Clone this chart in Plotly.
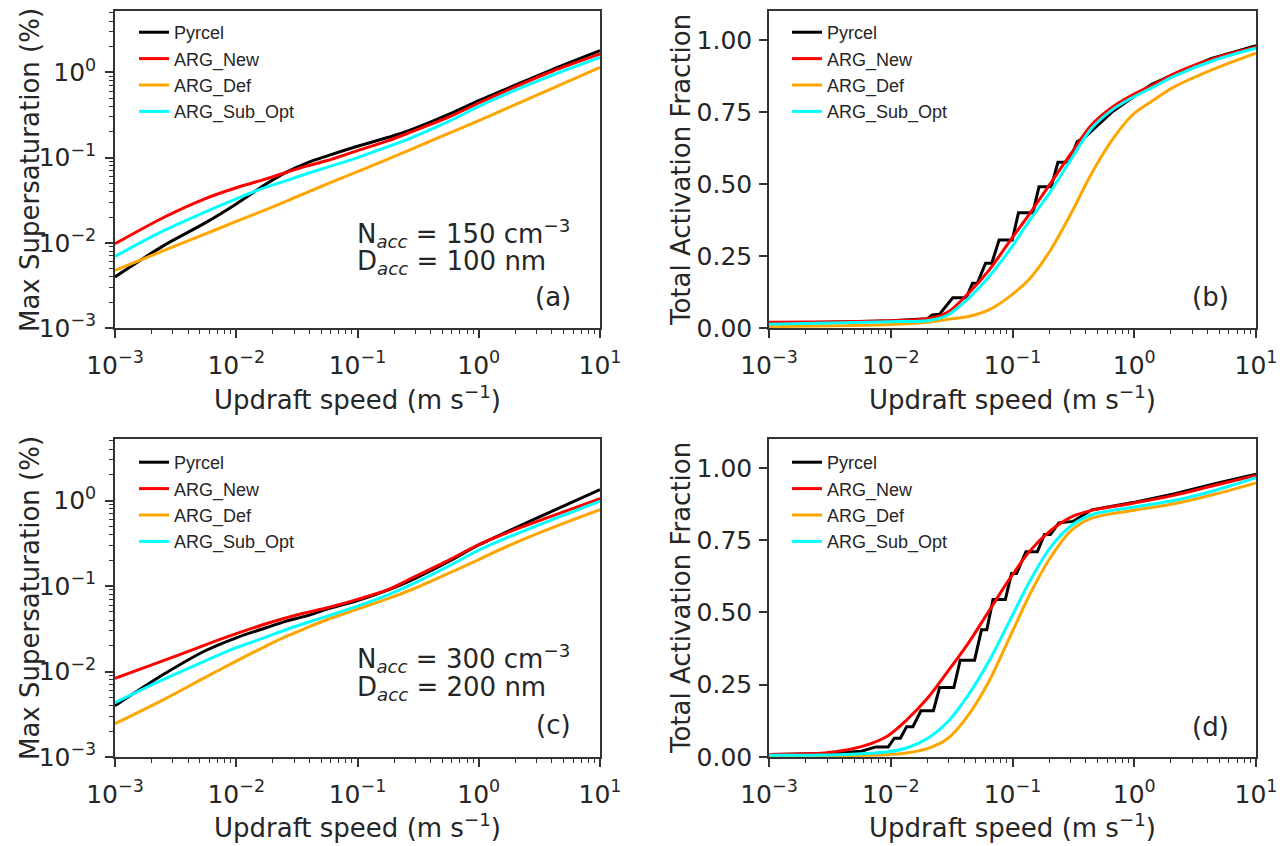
import plotly.graph_objects as go

# ---------------- data ----------------
SERIES = ["Pyrcel", "ARG_New", "ARG_Def", "ARG_Sub_Opt"]
COLORS = ["#000000", "#ff0000", "#ffa500", "#00ffff"]

# updraft speeds (m/s) for max supersaturation panels
W_SS = [0.001, 0.00254, 0.0055, 0.01, 0.0176, 0.026, 0.038, 0.0564, 0.1, 0.18,
        0.265, 0.577, 1.0, 1.85, 4.0, 10.0]

# panel (a): Nacc=150, Dacc=100 nm  (max supersaturation, %)
SS_A_PYRCEL = [0.00398, 0.00933, 0.0170, 0.0286, 0.0490, 0.0676, 0.0861, 0.1047,
               0.1358, 0.173, 0.207, 0.325, 0.466, 0.676, 1.072, 1.795]
SS_A_NEW = [0.00973, 0.01995, 0.0328, 0.0442, 0.0562, 0.0673, 0.0794, 0.0923,
            0.1208, 0.158, 0.195, 0.302, 0.437, 0.646, 1.023, 1.641]
SS_A_DEF = [0.00474, 0.00813, 0.0126, 0.0178, 0.0245, 0.0309, 0.0389, 0.0490,
            0.0684, 0.0966, 0.1216, 0.195, 0.272, 0.398, 0.646, 1.146]
SS_A_SUB = [0.00692, 0.01396, 0.0229, 0.0328, 0.0449, 0.0537, 0.0646, 0.0771,
            0.1000, 0.135, 0.166, 0.269, 0.398, 0.589, 0.923, 1.50]

# panel (c): Nacc=300, Dacc=200 nm
SS_C_PYRCEL = [0.00398, 0.00933, 0.01738, 0.0248, 0.0325, 0.0389, 0.0447, 0.0537,
               0.0676, 0.0902, 0.1135, 0.197, 0.302, 0.454, 0.748, 1.346]
SS_C_NEW = [0.00832, 0.01349, 0.0204, 0.0277, 0.0362, 0.0426, 0.0490, 0.0557,
            0.0697, 0.0912, 0.119, 0.204, 0.306, 0.439, 0.656, 1.054]
SS_C_DEF = [0.00245, 0.00472, 0.00847, 0.01324, 0.01986, 0.0259, 0.0324, 0.0406,
            0.0537, 0.0716, 0.0881, 0.143, 0.204, 0.306, 0.480, 0.785]
SS_C_SUB = [0.00432, 0.00813, 0.01324, 0.0190, 0.0253, 0.0310, 0.0372, 0.0445,
            0.0582, 0.0794, 0.101, 0.174, 0.263, 0.385, 0.596, 0.982]

# panel (b): activation fraction
W_AF_B = [0.001, 0.01, 0.02, 0.0294, 0.0434, 0.064, 0.0944, 0.139, 0.205, 0.303,
          0.447, 0.659, 0.97, 1.43, 2.11, 4.59, 10.0]
AF_B_NEW = [0.020, 0.025, 0.032, 0.055, 0.12, 0.20, 0.30, 0.398, 0.502, 0.606,
            0.705, 0.766, 0.809, 0.844, 0.882, 0.936, 0.975]
AF_B_DEF = [0.005, 0.012, 0.020, 0.030, 0.040, 0.063, 0.109, 0.172, 0.27, 0.398,
            0.537, 0.653, 0.74, 0.79, 0.836, 0.90, 0.954]
AF_B_SUB = [0.013, 0.022, 0.025, 0.045, 0.103, 0.178, 0.27, 0.375, 0.473, 0.586,
            0.693, 0.757, 0.80, 0.836, 0.873, 0.93, 0.971]
W_AF_B_PYRCEL = [0.001, 0.01, 0.02, 0.0219, 0.0252, 0.0323, 0.0417, 0.0469, 0.0514,
                 0.0601, 0.0676, 0.0776, 0.0995, 0.112, 0.147, 0.165, 0.208, 0.236,
                 0.291, 0.340, 0.388, 0.501, 0.659, 0.970, 1.38, 2.11, 4.26, 10.0]
AF_B_PYRCEL = [0.015, 0.025, 0.032, 0.045, 0.048, 0.105, 0.105, 0.155, 0.155,
               0.225, 0.225, 0.305, 0.305, 0.40, 0.40, 0.49, 0.49, 0.575,
               0.575, 0.647, 0.66, 0.705, 0.75, 0.80, 0.845, 0.88, 0.935, 0.98]

# panel (d): activation fraction
W_AF_D = [0.001, 0.00286, 0.0042, 0.0062, 0.0092, 0.0135, 0.02, 0.0294, 0.0434,
          0.064, 0.0944, 0.139, 0.205, 0.303, 0.447, 0.97, 2.11, 4.59, 10.0]
AF_D_NEW = [0.009, 0.014, 0.023, 0.04, 0.07, 0.128, 0.203, 0.296, 0.394, 0.505,
            0.615, 0.713, 0.783, 0.83, 0.853, 0.878, 0.905, 0.94, 0.974]
AF_D_DEF = [0.002, 0.003, 0.004, 0.006, 0.008, 0.014, 0.029, 0.064, 0.145, 0.261,
            0.412, 0.563, 0.69, 0.783, 0.826, 0.853, 0.876, 0.909, 0.948]
AF_D_SUB = [0.006, 0.007, 0.009, 0.012, 0.017, 0.031, 0.064, 0.122, 0.215, 0.331,
            0.47, 0.609, 0.725, 0.80, 0.838, 0.864, 0.887, 0.922, 0.966]
W_AF_D_PYRCEL = [0.001, 0.00316, 0.00575, 0.00755, 0.00953, 0.0107, 0.0120, 0.0135,
                 0.0152, 0.0177, 0.0224, 0.0252, 0.0330, 0.0372, 0.0488, 0.0556,
                 0.0615, 0.0692, 0.0873, 0.0982, 0.108, 0.129, 0.160, 0.183, 0.205,
                 0.240, 0.315, 0.447, 0.970, 2.11, 4.59, 10.0]
AF_D_PYRCEL = [0.009, 0.012, 0.02, 0.035, 0.035, 0.065, 0.065, 0.105, 0.105, 0.16,
               0.16, 0.24, 0.24, 0.335, 0.335, 0.44, 0.44, 0.545, 0.545, 0.635,
               0.635, 0.71, 0.71, 0.77, 0.77, 0.81, 0.815, 0.855, 0.88, 0.91,
               0.945, 0.978]

PANEL_LABELS = ["(a)", "(b)", "(c)", "(d)"]
ANNOT_A = ["N<sub><i>acc</i></sub> = 150 cm<sup>−3</sup>", "D<sub><i>acc</i></sub> = 100 nm"]
ANNOT_C = ["N<sub><i>acc</i></sub> = 300 cm<sup>−3</sup>", "D<sub><i>acc</i></sub> = 200 nm"]
XTICKS = [0.001, 0.01, 0.1, 1, 10]
XTICKTEXT = ["10<sup>−3</sup>", "10<sup>−2</sup>", "10<sup>−1</sup>", "10<sup>0</sup>", "10<sup>1</sup>"]
YTICKS_SS = [0.001, 0.01, 0.1, 1]
YTICKTEXT_SS = ["10<sup>−3</sup>", "10<sup>−2</sup>", "10<sup>−1</sup>", "10<sup>0</sup>"]
YTICKS_AF = [0, 0.25, 0.5, 0.75, 1.0]

# ---------------- figure ----------------
FW, FH = 1282, 846
def px(x): return x / FW
def py(y): return 1 - y / FH

fig = go.Figure()

panels = [
    dict(ax="1", leg="legend",  data=[(W_SS, SS_A_PYRCEL, True), (W_SS, SS_A_NEW, True), (W_SS, SS_A_DEF, True), (W_SS, SS_A_SUB, True)]),
    dict(ax="2", leg="legend2", data=[(W_AF_B_PYRCEL, AF_B_PYRCEL, False), (W_AF_B, AF_B_NEW, True), (W_AF_B, AF_B_DEF, True), (W_AF_B, AF_B_SUB, True)]),
    dict(ax="3", leg="legend3", data=[(W_SS, SS_C_PYRCEL, True), (W_SS, SS_C_NEW, True), (W_SS, SS_C_DEF, True), (W_SS, SS_C_SUB, True)]),
    dict(ax="4", leg="legend4", data=[(W_AF_D_PYRCEL, AF_D_PYRCEL, False), (W_AF_D, AF_D_NEW, True), (W_AF_D, AF_D_DEF, True), (W_AF_D, AF_D_SUB, True)]),
]
for p in panels:
    axs = "" if p["ax"] == "1" else p["ax"]
    for i in range(4):
        xs, ys, smooth = p["data"][i]
        fig.add_trace(go.Scatter(
            x=xs, y=ys, mode="lines", name=SERIES[i],
            line=dict(color=COLORS[i], width=3,
                      shape="spline" if smooth else "linear", smoothing=0.9),
            xaxis="x" + axs, yaxis="y" + axs,
            legend=p["leg"], legendgroup=p["leg"] + SERIES[i], legendrank=i + 1,
        ))

XD = {"L": [px(115), px(600)], "R": [px(769), px(1256)]}
YD = {"T": [py(328), py(11)], "B": [py(757), py(439)]}
tickfont = dict(family="DejaVu Sans", size=25, color="#262626")
axcol = "#333333"
minor_log = [m * 10 ** e for e in range(-3, 1) for m in range(2, 10)]

common = dict(showline=True, linecolor=axcol, linewidth=1.5, mirror=True,
              showgrid=False, zeroline=False, automargin=False,
              ticks="outside", ticklen=8, tickwidth=1.5, tickcolor=axcol,
              tickfont=tickfont)

def xa(dom, anchor):
    return dict(domain=dom, anchor=anchor, type="log", range=[-3, 1],
                tickvals=XTICKS, ticktext=XTICKTEXT, ticklabelstandoff=6,
                minor=dict(ticks="outside", ticklen=4, tickwidth=1.2, tickcolor=axcol,
                           tickvals=minor_log), **common)

def ya_log(dom, anchor):
    return dict(domain=dom, anchor=anchor, type="log", range=[-3, 0.72],
                tickvals=YTICKS_SS, ticktext=YTICKTEXT_SS, ticklabelstandoff=4,
                minor=dict(ticks="outside", ticklen=4, tickwidth=1.2, tickcolor=axcol,
                           tickvals=minor_log), **common)

def ya_lin(dom, anchor):
    return dict(domain=dom, anchor=anchor, range=[0, 1.1],
                tickvals=YTICKS_AF, tickformat=".2f", ticklabelstandoff=2, **common)

legfont = dict(family="Liberation Sans, Arial", size=18, color="#262626")
def leg(x, y):
    return dict(x=px(x), y=py(y), xanchor="left", yanchor="top",
                bgcolor="rgba(0,0,0,0)", font=legfont, tracegroupgap=0,
                itemwidth=30)

fig.update_layout(
    width=FW, height=FH, margin=dict(l=0, r=0, t=0, b=0, autoexpand=False),
    paper_bgcolor="white", plot_bgcolor="white", showlegend=True,
    xaxis=xa(XD["L"], "y"), yaxis=ya_log(YD["T"], "x"),
    xaxis2=xa(XD["R"], "y2"), yaxis2=ya_lin(YD["T"], "x2"),
    xaxis3=xa(XD["L"], "y3"), yaxis3=ya_log(YD["B"], "x3"),
    xaxis4=xa(XD["R"], "y4"), yaxis4=ya_lin(YD["B"], "x4"),
    legend=leg(134, 14), legend2=leg(787, 14),
    legend3=leg(134, 444), legend4=leg(787, 444),
)

titlefont = dict(family="DejaVu Sans", size=26, color="#262626")
ann = []
for cx, cy in [(357, 398), (1012, 398), (357, 826), (1012, 826)]:
    ann.append(dict(x=px(cx), y=py(cy), xref="paper", yref="paper", showarrow=False,
                    text="Updraft speed (m s<sup>−1</sup>)", font=titlefont,
                    xanchor="center", yanchor="middle"))
for cx, cy, t in [(30, 170, "Max Supersaturation (%)"), (681, 170, "Total Activation Fraction"),
                  (30, 598, "Max Supersaturation (%)"), (681, 598, "Total Activation Fraction")]:
    ann.append(dict(x=px(cx), y=py(cy), xref="paper", yref="paper", showarrow=False,
                    text=t, font=titlefont, textangle=-90,
                    xanchor="center", yanchor="middle"))
for (cx, cy), t in zip([(553, 297), (1210, 297), (553, 725), (1210, 727)], PANEL_LABELS):
    ann.append(dict(x=px(cx), y=py(cy), xref="paper", yref="paper", showarrow=False,
                    text=t, font=titlefont, xanchor="center", yanchor="middle"))
for (y0, lines) in [(233, ANNOT_A), (658, ANNOT_C)]:
    for k, t in enumerate(lines):
        ann.append(dict(x=px(355), y=py(y0 + 30 * k), xref="paper", yref="paper",
                        showarrow=False, text=t, font=titlefont,
                        xanchor="left", yanchor="middle"))
fig.update_layout(annotations=ann)

fig.write_html("out.html")
